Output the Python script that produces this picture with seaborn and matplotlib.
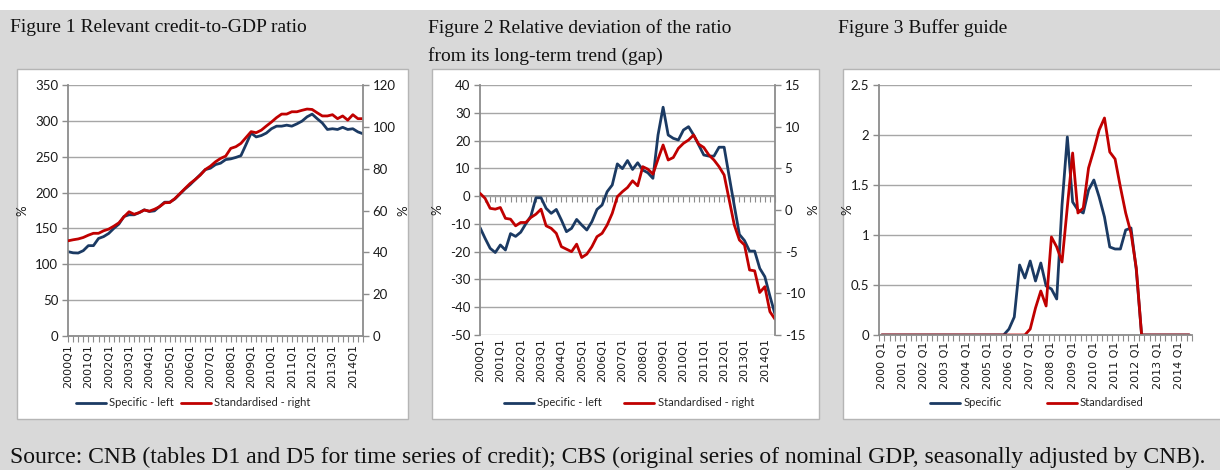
import matplotlib
matplotlib.use("Agg")
import matplotlib.pyplot as plt
from matplotlib.patches import Rectangle
from matplotlib.ticker import MultipleLocator, FuncFormatter
import numpy as np
import pandas as pd
import seaborn as sns

# ---------------- data ----------------
years = [2000, 2001, 2002, 2003, 2004, 2005, 2006, 2007,
         2008, 2009, 2010, 2011, 2012, 2013, 2014]
quarters = ["Q1", "Q2", "Q3", "Q4"]
periods = [f"{y}{q}" for y in years for q in quarters][:59]

# Figure 1: credit-to-GDP ratio (%)
fig1_specific = [117.6, 116, 115.7, 119, 126, 126, 136, 138.6, 143, 150,
                 156, 166.6, 169, 169, 172, 176, 173.6, 174.5, 180.6, 186.6,
                 186.6, 191, 198, 205, 211, 218, 225, 232, 234, 239,
                 241, 246, 247, 249, 251.5, 267, 283, 277.6, 279.5, 283,
                 289, 292.6, 292.6, 294, 292.6, 295.8, 299.6, 305.6, 309.4, 303,
                 297, 288, 289, 288, 291, 288, 289, 284.6, 282]
fig1_standardised = [45.5, 46.0, 46.4, 47.1, 48.2, 49.1, 49.1, 50.3, 51.1, 52.5,
                     54.1, 57.0, 59.4, 58.2, 59.0, 60.2, 59.7, 60.6, 61.8, 63.7,
                     63.8, 65.7, 68.1, 70.5, 72.9, 74.8, 76.9, 79.6, 81.2, 83.3,
                     84.9, 86.0, 89.7, 90.5, 92.1, 94.9, 97.7, 97.2, 98.4, 100.4,
                     102.3, 104.4, 106.1, 106.1, 107.2, 107.2, 107.9, 108.5, 108.3, 106.7,
                     105.2, 105.2, 105.8, 103.9, 105.2, 103.2, 105.8, 103.9, 103.9]

# Figure 2: gap (%)
fig2_specific = [-11.3, -15.2, -18.8, -20.3, -17.6, -19.4, -13.5, -14.5, -13.0, -10.0,
                 -7.2, -0.6, -0.6, -4.4, -6.2, -4.8, -8.6, -12.8, -11.6, -8.4,
                 -10.4, -12.2, -9.2, -4.8, -3.2, 1.6, 4.0, 11.6, 9.9, 12.8,
                 9.6, 12.0, 9.4, 8.4, 6.4, 22.0, 32.0, 22.0, 20.8, 20.2,
                 23.8, 25.0, 22.0, 18.4, 14.8, 14.4, 14.4, 17.6, 17.6, 7.0,
                 -3.5, -13.8, -16.0, -19.8, -19.8, -26.0, -29.0, -36.0, -42.5]
fig2_standardised = [2.0, 1.4, 0.2, 0.1, 0.3, -1.0, -1.1, -1.9, -1.5, -1.5,
                     -0.9, -0.5, 0.1, -1.9, -2.2, -2.8, -4.4, -4.7, -5.0, -4.1,
                     -5.7, -5.3, -4.4, -3.2, -2.8, -1.8, -0.4, 1.6, 2.2, 2.7,
                     3.5, 2.9, 5.2, 4.9, 4.3, 6.1, 7.8, 6.0, 6.3, 7.4,
                     8.0, 8.4, 9.0, 7.9, 7.5, 6.6, 6.0, 5.2, 4.2, 1.2,
                     -1.8, -3.6, -4.2, -7.2, -7.3, -9.9, -9.2, -12.2, -13.1]

# Figure 3: buffer guide (%)
fig3_specific = [0, 0, 0, 0, 0, 0, 0, 0, 0, 0,
                 0, 0, 0, 0, 0, 0, 0, 0, 0, 0,
                 0, 0, 0, 0, 0.06, 0.18, 0.70, 0.57, 0.74, 0.54,
                 0.72, 0.49, 0.46, 0.36, 1.30, 1.98, 1.33, 1.25, 1.22, 1.45,
                 1.55, 1.38, 1.18, 0.88, 0.86, 0.86, 1.05, 1.07, 0.65, 0,
                 0, 0, 0, 0, 0, 0, 0, 0, 0]
fig3_standardised = [0, 0, 0, 0, 0, 0, 0, 0, 0, 0,
                     0, 0, 0, 0, 0, 0, 0, 0, 0, 0,
                     0, 0, 0, 0, 0, 0, 0, 0, 0.06, 0.27,
                     0.44, 0.29, 0.98, 0.88, 0.73, 1.28, 1.82, 1.22, 1.27, 1.67,
                     1.85, 2.05, 2.17, 1.83, 1.76, 1.48, 1.22, 1.02, 0.67, 0,
                     0, 0, 0, 0, 0, 0, 0, 0, 0]

titles = ["Figure 1 Relevant credit-to-GDP ratio",
          "Figure 2 Relative deviation of the ratio",
          "from its long-term trend (gap)",
          "Figure 3 Buffer guide"]
source = ("Source: CNB (tables D1 and D5 for time series of credit); CBS (original series "
          "of nominal GDP, seasonally adjusted by CNB).")

# ---------------- style ----------------
sns.set_theme(style="white")
plt.rcParams["font.family"] = ["Lato", "DejaVu Sans"]

BLUE = "#1b3a63"
RED = "#c00000"
GRID = "#a6a6a6"
AXC = "#8c8c8c"
LW = 2.0
W, H = 1220, 470

df = pd.DataFrame({
    "pos": np.arange(len(periods)),
    "period": periods,
    "f1s": fig1_specific, "f1r": fig1_standardised,
    "f2s": fig2_specific, "f2r": fig2_standardised,
    "f3s": fig3_specific, "f3r": fig3_standardised,
})

fig = plt.figure(figsize=(W / 100, H / 100), dpi=100, facecolor="#d9d9d9")
fig.patches.append(Rectangle((0, 1 - 10 / H), 1, 10 / H, transform=fig.transFigure,
                             facecolor="white", edgecolor="none", zorder=-2))
for (x0, y0, x1, y1) in [(17, 69, 408, 419), (432, 69, 819, 419), (843, 69, 1225, 419)]:
    fig.patches.append(Rectangle((x0 / W, 1 - y1 / H), (x1 - x0) / W, (y1 - y0) / H,
                                 transform=fig.transFigure, facecolor="white",
                                 edgecolor="#b5b5b5", lw=1.0, zorder=-1))


def add_ax(x0, y0, x1, y1):
    return fig.add_axes([x0 / W, 1 - y1 / H, (x1 - x0) / W, (y1 - y0) / H])


def base_style(ax, lo, hi, step):
    ax.set_facecolor("none")
    ax.set_ylim(lo, hi)
    ax.yaxis.set_major_locator(MultipleLocator(step))
    ax.yaxis.set_major_formatter(FuncFormatter(lambda v, p: f"{v:g}"))
    ax.grid(axis="y", color=GRID, lw=1.0)
    ax.grid(axis="x", visible=False)
    for s in ["top", "right"]:
        ax.spines[s].set_visible(False)
    for s in ["left", "bottom"]:
        ax.spines[s].set_color(AXC)
        ax.spines[s].set_linewidth(1.3)
    ax.tick_params(axis="y", direction="out", length=4, width=1, color=AXC,
                   labelsize=9.5, labelcolor="#1a1a1a", pad=3, left=True)
    ax.set_xlabel("")
    ax.set_ylabel("%", fontsize=9.5, color="#1a1a1a")


def right_style(axt, lo, hi, step, labelx):
    axt.set_ylim(lo, hi)
    axt.yaxis.set_major_locator(MultipleLocator(step))
    axt.yaxis.set_major_formatter(FuncFormatter(lambda v, p: f"{v:g}"))
    axt.grid(False)
    for s in ["top", "left", "bottom"]:
        axt.spines[s].set_visible(False)
    axt.spines["right"].set_color(AXC)
    axt.spines["right"].set_linewidth(1.3)
    axt.tick_params(axis="y", direction="out", length=4, width=1, color=AXC,
                    labelsize=9.5, labelcolor="#1a1a1a", pad=3, right=True)
    axt.set_ylabel("%", fontsize=9.5, color="#1a1a1a", rotation=90)
    axt.yaxis.set_label_coords(labelx, 0.5)


def on_tick_xaxis(ax, tick_len=4):
    ax.set_xlim(0, len(periods) - 1)
    ax.set_xticks(df["pos"])
    ax.set_xticklabels([p if p.endswith("Q1") else "" for p in periods],
                       rotation=90, fontsize=8, color="#1a1a1a",
                       fontfamily=["DejaVu Sans"])
    ax.tick_params(axis="x", direction="out", length=tick_len, width=0.8,
                   color=AXC, pad=2, bottom=True)


# ---------- Figure 1 ----------
ax1 = add_ax(68, 85, 363, 336)
sns.lineplot(data=df, x="pos", y="f1s", ax=ax1, color=BLUE, lw=LW,
             label="Specific - left", legend=False)
base_style(ax1, 0, 350, 50)
on_tick_xaxis(ax1)
ax1.yaxis.set_label_coords(-(68 - 28) / 295, 0.5)
ax1t = ax1.twinx()
sns.lineplot(data=df, x="pos", y="f1r", ax=ax1t, color=RED, lw=LW,
             label="Standardised - right", legend=False)
right_style(ax1t, 0, 120, 20, (397 - 68) / 295)
ax1t.set_xlabel("")

# ---------- Figure 2 ----------
ax2 = add_ax(480, 85, 775, 335)
sns.lineplot(data=df, x="pos", y="f2s", ax=ax2, color=BLUE, lw=LW,
             label="Specific - left", legend=False)
base_style(ax2, -50, 40, 10)
on_tick_xaxis(ax2, tick_len=0)
ax2.spines["bottom"].set_visible(False)
ax2.yaxis.set_label_coords((443 - 480) / 295, 0.5)
ax2z = ax2.twiny()
ax2z.set_xlim(ax2.get_xlim())
ax2z.set_xticks(df["pos"])
ax2z.xaxis.set_ticks_position("bottom")
ax2z.spines["bottom"].set_position(("data", 0))
for s in ["top", "left", "right"]:
    ax2z.spines[s].set_visible(False)
ax2z.spines["bottom"].set_color(AXC)
ax2z.spines["bottom"].set_linewidth(1.3)
ax2z.tick_params(axis="x", direction="out", length=4, width=0.8, color=AXC,
                 labelbottom=False, labeltop=False, top=False, bottom=True)
ax2z.set_zorder(ax2.get_zorder() - 0.5)
ax2t = ax2.twinx()
sns.lineplot(data=df, x="pos", y="f2r", ax=ax2t, color=RED, lw=LW,
             label="Standardised - right", legend=False)
right_style(ax2t, -15, 15, 5, (807 - 480) / 295)
ax2t.set_xlabel("")

# ---------- Figure 3 ----------
ax3 = add_ax(879, 85, 1192, 335)
sns.lineplot(data=df, x="pos", y="f3s", ax=ax3, color=BLUE, lw=LW,
             label="Specific", legend=False)
sns.lineplot(data=df, x="pos", y="f3r", ax=ax3, color=RED, lw=LW,
             label="Standardised", legend=False)
base_style(ax3, 0, 2.5, 0.5)
ax3.yaxis.set_label_coords((853 - 879) / 313, 0.5)
ax3.set_xlim(-0.5, len(periods) - 0.5)
ax3.set_xticks(np.arange(-0.5, len(periods), 1.0))
ax3.set_xticklabels([])
ax3.set_xticks([i for i, p in enumerate(periods) if p.endswith("Q1")], minor=True)
ax3.set_xticklabels([p.replace("Q", " Q") for p in periods if p.endswith("Q1")],
                    minor=True, rotation=90, fontsize=8, color="#1a1a1a",
                    fontfamily=["DejaVu Sans"])
ax3.tick_params(axis="x", which="major", direction="out", length=4, width=0.8,
                color=AXC, bottom=True)
ax3.tick_params(axis="x", which="minor", length=0, pad=5, bottom=True)

# ---------- legends ----------
leg_kw = dict(loc="center", ncol=2, frameon=False, handlelength=2.7,
              handletextpad=0.3, borderaxespad=0,
              prop={"family": ["Liberation Sans Narrow", "Lato"], "size": 8})
h1 = [ax1.lines[0], ax1t.lines[0]]
fig.legend(h1, [h.get_label() for h in h1], bbox_to_anchor=(193 / W, 1 - 403 / H),
           columnspacing=0.6, **leg_kw)
h2 = [ax2.lines[0], ax2t.lines[0]]
fig.legend(h2, [h.get_label() for h in h2], bbox_to_anchor=(629 / W, 1 - 403 / H),
           columnspacing=2.0, **leg_kw)
h3 = [ax3.lines[0], ax3.lines[1]]
fig.legend(h3, [h.get_label() for h in h3], bbox_to_anchor=(1037 / W, 1 - 403 / H),
           columnspacing=4.0, **leg_kw)

# ---------- titles & source ----------
serif = ["Liberation Serif", "DejaVu Serif"]
tkw = dict(fontfamily=serif, fontsize=14, va="center", color="#111111")
fig.text(10 / W, 1 - 28 / H, titles[0], **tkw)
fig.text(428 / W, 1 - 28 / H, titles[1], **tkw)
fig.text(428 / W, 1 - 56 / H, titles[2], **tkw)
fig.text(838 / W, 1 - 28 / H, titles[3], **tkw)
fig.text(10 / W, 1 - 457 / H, source, fontfamily=serif, fontsize=17, va="center",
         color="#111111")

fig.savefig("out.png", dpi=100, facecolor=fig.get_facecolor())
